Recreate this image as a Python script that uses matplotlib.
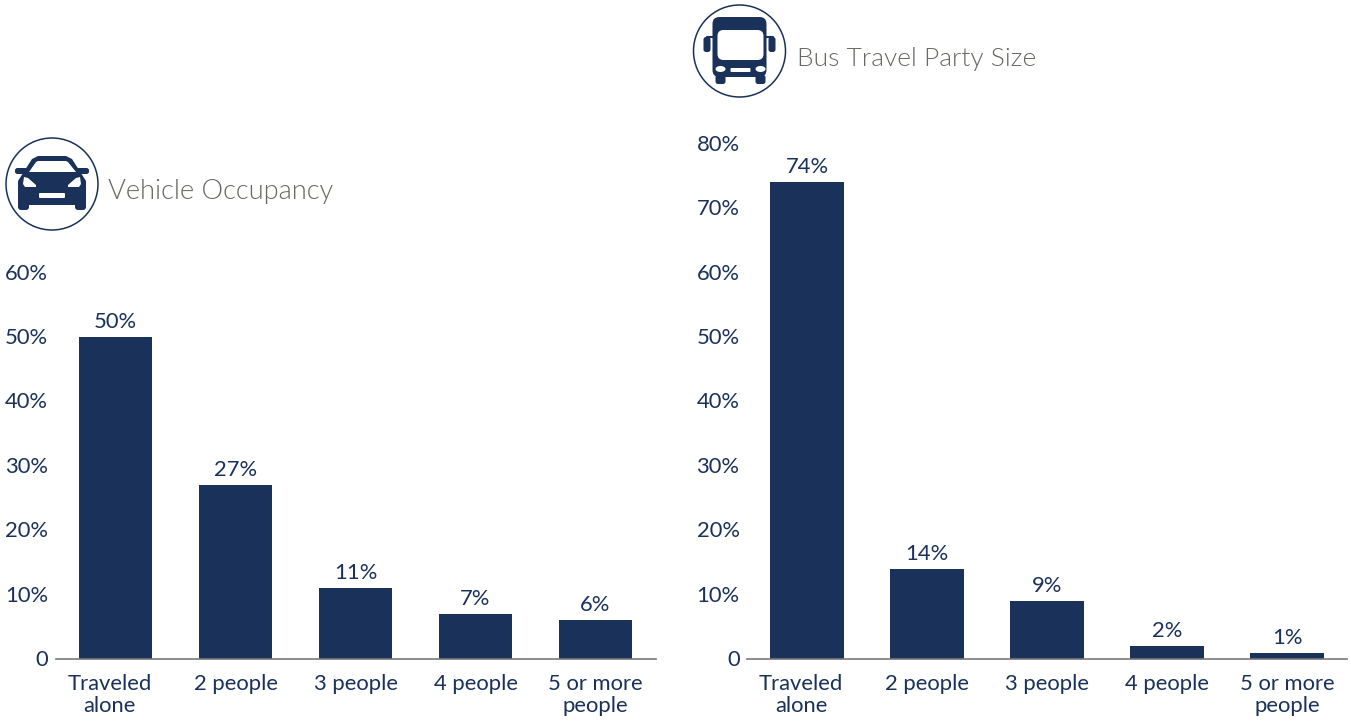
#!/usr/bin/env python
from __future__ import annotations

import matplotlib

matplotlib.use("Agg")

import matplotlib.pyplot as plt
from matplotlib.patches import Circle, Ellipse, FancyBboxPatch, Polygon
from matplotlib.transforms import ScaledTranslation

CATEGORIES = ["Traveled\nalone", "2 people", "3 people", "4 people", "5 or more\npeople"]
VEHICLE_VALUES = [50, 27, 11, 7, 6]
BUS_VALUES = [74, 14, 9, 2, 1]
VEHICLE_TICKS = [0, 10, 20, 30, 40, 50, 60]
BUS_TICKS = [0, 10, 20, 30, 40, 50, 60, 70, 80]

NAVY = "#1a3159"
GRAY = "#666861"
W, H = 1351, 724
BASE_Y = 659
PX_PER_PCT = 6.44

plt.rcParams["font.family"] = ["Lato", "DejaVu Sans"]


def px(dx, dy, fig):
    return ScaledTranslation(dx / fig.dpi, dy / fig.dpi, fig.dpi_scale_trans)


def rounded(ax, x0, y0, x1, y1, r, color):
    ax.add_patch(
        FancyBboxPatch(
            (x0 + r, y0 + r),
            x1 - x0 - 2 * r,
            y1 - y0 - 2 * r,
            boxstyle=f"round,pad={r},rounding_size={r}",
            fc=color,
            ec="none",
        )
    )


def bar_panel(fig, left, values, ticks):
    top_value = ticks[-1]
    height = top_value * PX_PER_PCT
    ax = fig.add_axes([left / W, 1 - BASE_Y / H, 600 / W, height / H])
    positions = range(len(values))
    ax.bar(positions, values, width=0.615, color=NAVY)
    ax.set_xlim(-0.5, 4.5)
    ax.set_ylim(0, top_value)
    ax.set_xticks(list(positions), CATEGORIES, linespacing=1.12)
    ax.set_yticks(ticks, ["0" if t == 0 else f"{t}%" for t in ticks])
    ax.tick_params(axis="both", length=0, labelsize=15.8, labelcolor=NAVY)
    ax.tick_params(axis="x", pad=10.5)
    ax.tick_params(axis="y", pad=5.4)
    for t in ax.get_yticklabels():
        t.set_transform(t.get_transform() + px(0, 1, fig))
    first = ax.get_xticklabels()[0]
    first.set_transform(first.get_transform() + px(-6, 0, fig))
    for side in ("top", "left", "right"):
        ax.spines[side].set_visible(False)
    ax.spines["bottom"].set_color("#77787a")
    ax.spines["bottom"].set_linewidth(1.2)
    for x, value in zip(positions, values):
        ax.annotate(
            f"{value}%",
            (x, value),
            xytext=(0, 3.6),
            textcoords="offset points",
            ha="center",
            va="bottom",
            fontsize=15.8,
            color=NAVY,
        )
    return ax


def draw_car(ax, cx, cy):
    ax.add_patch(Circle((cx, cy), 46, fc="white", ec=NAVY, lw=1.1))
    body = [(-34, 21), (-34, -3), (-29, -11), (-20, -25), (-14, -28), (14, -28), (20, -25), (29, -11), (34, -3), (34, 21)]
    ax.add_patch(Polygon([(cx + x, cy + y) for x, y in body], fc=NAVY, ec="none"))
    rounded(ax, cx - 37, cy - 16, cx + 37, cy - 10, 2.5, NAVY)
    glass = [(-23, -12), (-16, -22), (-14, -23), (14, -23), (16, -22), (24, -12)]
    ax.add_patch(Polygon([(cx + x, cy + y) for x, y in glass], fc="white", ec="none"))
    rounded(ax, cx - 34, cy + 15, cx - 23, cy + 26, 3, NAVY)
    rounded(ax, cx + 23, cy + 15, cx + 34, cy + 26, 3, NAVY)
    for sign in (-1, 1):
        lamp = [(28, -7), (24, -6), (16, 1), (16, 3), (27, 3), (29, 0)]
        ax.add_patch(Polygon([(cx + sign * x, cy + y) for x, y in lamp], fc="white", ec="none"))
    rounded(ax, cx - 13, cy + 9, cx + 13, cy + 14, 1, "white")


def draw_bus(ax, cx, cy):
    ax.add_patch(Circle((cx, cy), 46, fc="white", ec=NAVY, lw=1.1))
    rounded(ax, cx - 27, cy - 34, cx + 27, cy + 26, 7, NAVY)
    rounded(ax, cx - 22, cy - 21, cx + 24, cy + 9, 6, "white")
    rounded(ax, cx - 36, cy - 14, cx - 29, cy + 1, 2.5, NAVY)
    rounded(ax, cx + 29, cy - 14, cx + 36, cy + 1, 2.5, NAVY)
    ax.plot([cx - 33, cx - 33, cx - 27], [cy - 12, cy - 14, cy - 14], color=NAVY, lw=1.5)
    ax.plot([cx + 33, cx + 33, cx + 27], [cy - 12, cy - 14, cy - 14], color=NAVY, lw=1.5)
    rounded(ax, cx - 24, cy + 24, cx - 14, cy + 33, 2.5, NAVY)
    rounded(ax, cx + 16, cy + 24, cx + 26, cy + 33, 2.5, NAVY)
    ax.add_patch(Ellipse((cx - 19, cy + 18), 10, 6, fc="white", ec="none"))
    ax.add_patch(Ellipse((cx + 21, cy + 18), 10, 6, fc="white", ec="none"))
    rounded(ax, cx - 9, cy + 17, cx + 11, cy + 21, 1, "white")


fig = plt.figure(figsize=(W / 100, H / 100), dpi=100, facecolor="white")

bar_panel(fig, 55.5, VEHICLE_VALUES, VEHICLE_TICKS)
bar_panel(fig, 747, BUS_VALUES, BUS_TICKS)

# Header icons and titles are placed in pixel space on a full-figure layer
overlay = fig.add_axes([0, 0, 1, 1], zorder=5)
overlay.set_xlim(0, W)
overlay.set_ylim(H, 0)
overlay.axis("off")
overlay.patch.set_alpha(0)

draw_car(overlay, 52, 184)
draw_bus(overlay, 739.5, 51)
overlay.text(108.5, 191, "Vehicle Occupancy", fontsize=19.6, fontweight=300, color=GRAY, va="center", ha="left")
overlay.text(797, 59, "Bus Travel Party Size", fontsize=19, fontweight=300, color=GRAY, va="center", ha="left")

fig.savefig("out.png", dpi=100)
